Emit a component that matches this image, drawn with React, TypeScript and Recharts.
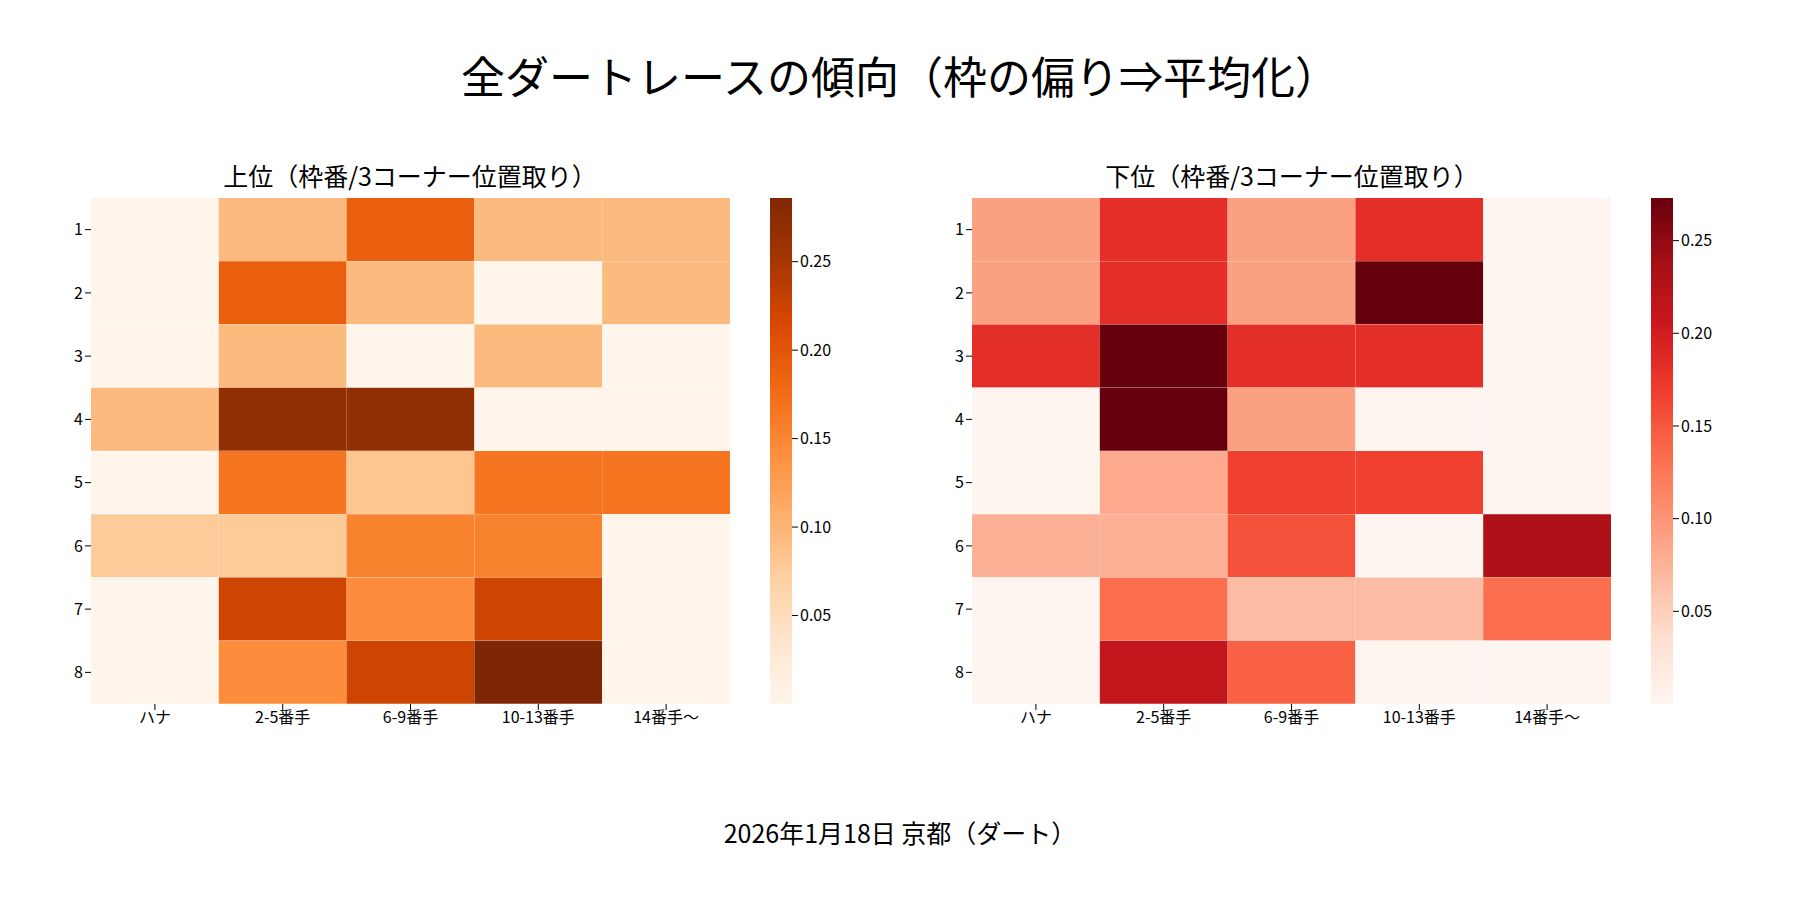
import React from 'react';
import { BarChart, Bar, Cell, XAxis, YAxis } from 'recharts';

const rowLabels = ['1', '2', '3', '4', '5', '6', '7', '8'];
const colLabels = ['ハナ', '2-5番手', '6-9番手', '10-13番手', '14番手〜'];

const topValues = [
  [0, 0.095, 0.19, 0.095, 0.095],
  [0, 0.19, 0.095, 0, 0.095],
  [0, 0.095, 0, 0.095, 0],
  [0.095, 0.27, 0.27, 0, 0],
  [0, 0.167, 0.083, 0.167, 0.167],
  [0.077, 0.077, 0.154, 0.154, 0],
  [0, 0.222, 0.143, 0.222, 0],
  [0, 0.143, 0.222, 0.286, 0],
];
const bottomValues = [
  [0.091, 0.182, 0.091, 0.182, 0],
  [0.091, 0.182, 0.091, 0.273, 0],
  [0.182, 0.273, 0.182, 0.182, 0],
  [0, 0.273, 0.091, 0, 0],
  [0, 0.083, 0.167, 0.167, 0],
  [0.077, 0.077, 0.154, 0, 0.231],
  [0, 0.133, 0.067, 0.067, 0.133],
  [0, 0.214, 0.143, 0, 0],
];
const cbTicks = [0, 0.05, 0.1, 0.15, 0.2, 0.25];

const ORANGES = ['#fff5eb', '#fee6ce', '#fdd0a2', '#fdae6b', '#fd8d3c', '#f16913', '#d94801', '#a63603', '#7f2704'];
const REDS = ['#fff5f0', '#fee0d2', '#fcbba1', '#fc9272', '#fb6a4a', '#ef3b2c', '#cb181d', '#a50f15', '#67000d'];

const FONT = '"Noto Sans CJK JP", "Noto Sans", sans-serif';

function hex(c: string) { return [1, 3, 5].map(i => parseInt(c.slice(i, i + 2), 16)); }
function cmap(stops: string[], t: number) {
  const x = Math.max(0, Math.min(1, t)) * (stops.length - 1);
  const i = Math.min(stops.length - 2, Math.floor(x));
  const f = x - i;
  const a = hex(stops[i]), b = hex(stops[i + 1]);
  return `rgb(${a.map((v, k) => Math.round(v + (b[k] - v) * f)).join(',')})`;
}

function Heat({ left, values, stops, id }: { left: number; values: number[][]; stops: string[]; id: string }) {
  const max = Math.max(...values.flat());
  const rows = rowLabels.map(r => {
    const o: any = { row: r };
    colLabels.forEach((_, k) => (o[`c${k}`] = 1));
    return o;
  });
  const tick = { fill: '#000', fontSize: 16, fontFamily: FONT };
  return (
    <>
      <div style={{ position: 'absolute', left, top: 0 }}>
        <BarChart width={800} height={780} data={rows} layout="vertical" barCategoryGap={0}
          margin={{ top: 198, left: 51, right: 70, bottom: 36 }}>
          <XAxis type="number" domain={[0, 5]} ticks={[0.5, 1.5, 2.5, 3.5, 4.5]} height={40}
            tickFormatter={(v: number) => colLabels[Math.floor(v)]} axisLine={false}
            tick={tick} tickLine={{ stroke: '#000' }} tickSize={6} interval={0} />
          <YAxis type="category" dataKey="row" width={40} axisLine={false} tick={tick}
            tickLine={{ stroke: '#000' }} tickSize={6} />
          {colLabels.map((_, k) => (
            <Bar key={k} dataKey={`c${k}`} stackId="a" isAnimationActive={false}>
              {values.map((r, i) => <Cell key={i} fill={cmap(stops, r[k] / max)} />)}
            </Bar>
          ))}
        </BarChart>
      </div>
      <div style={{ position: 'absolute', left: left + 770, top: 198 }}>
        <BarChart width={90} height={506} data={[{ v: max }]} barCategoryGap={0}
          margin={{ top: 0, left: 0, right: 0, bottom: 0 }}>
          <defs>
            <linearGradient id={id} x1="0" y1="1" x2="0" y2="0">
              {stops.map((c, i) => <stop key={i} offset={i / (stops.length - 1)} stopColor={c} />)}
            </linearGradient>
          </defs>
          <XAxis hide />
          <YAxis orientation="right" domain={[0, max]} ticks={cbTicks} width={68} axisLine={false}
            tickFormatter={(v: number) => v.toFixed(2)} tick={tick} tickLine={{ stroke: '#000' }} tickSize={6} />
          <Bar dataKey="v" fill={`url(#${id})`} isAnimationActive={false} />
        </BarChart>
      </div>
    </>
  );
}

export default function App() {
  const text = (s: string, x: number, y: number, size: number) => (
    <div style={{ position: 'absolute', left: x, top: y, transform: 'translate(-50%,-50%)', fontSize: size, fontFamily: FONT, whiteSpace: 'nowrap', color: '#000' }}>{s}</div>
  );
  return (
    <div style={{ position: 'absolute', left: 0, top: 0, width: 1800, height: 900, background: '#fff', overflow: 'hidden' }}>
      {text('全ダートレースの傾向（枠の偏り⇒平均化）', 900, 75, 44)}
      {text('上位（枠番/3コーナー位置取り）', 410, 175, 25)}
      {text('下位（枠番/3コーナー位置取り）', 1292, 175, 25)}
      {text('2026年1月18日 京都（ダート）', 900, 832, 25)}
      <Heat left={0} values={topValues} stops={ORANGES} id="gOr" />
      <Heat left={881} values={bottomValues} stops={REDS} id="gRd" />
    </div>
  );
}
